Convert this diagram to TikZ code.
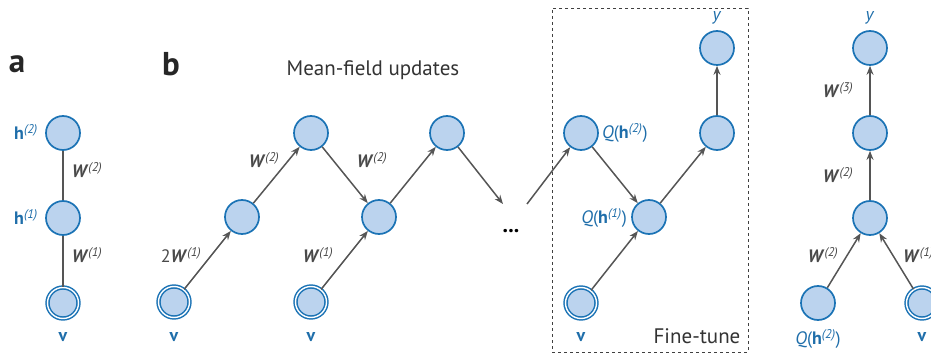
\documentclass[tikz,border=0pt]{standalone}
\usepackage{fontspec}
\setmainfont{PT Sans}
\usetikzlibrary{arrows.meta}
\definecolor{nfill}{HTML}{BBD3EE}
\definecolor{nblue}{HTML}{1B73B5}
\definecolor{tblue}{HTML}{1F6EAA}
\definecolor{tgray}{HTML}{4A4A4A}
\definecolor{agray}{HTML}{555555}
\newcommand\Wl[1]{\textbf{\textit{W}}\textsuperscript{\textit{(#1)}}}
\newcommand\hl[1]{\textbf{h}\textsuperscript{\textit{(#1)}}}
\newcommand\Ql[1]{\textit{Q}(\hl{#1})}
\tikzset{
  nd/.style={circle, minimum size=34pt, inner sep=0pt, fill=nfill, draw=nblue, line width=1.7pt},
  vis/.style={circle, minimum size=31pt, inner sep=0pt, fill=nfill, draw=nblue, double=white, double distance=1.4pt, line width=1.5pt},
  wlab/.style={text=tgray, font=\fontsize{18}{20}\selectfont, inner sep=0pt},
  blab/.style={text=tblue, font=\fontsize{18}{20}\selectfont, inner sep=0pt},
  panel/.style={font=\fontsize{33}{35}\selectfont\bfseries, text=black!85, inner sep=0pt},
  ttl/.style={font=\fontsize{21}{23}\selectfont, text=black!80, inner sep=0pt},
  ln/.style={draw=agray, line width=2pt},
  ar/.style={draw=agray, line width=1.5pt, -{Stealth[length=9pt,width=7pt]}},
}
\begin{document}
\begin{tikzpicture}[x=1pt,y=-1pt]
\useasboundingbox (0,0) rectangle (931,355);
\clip (0,0) rectangle (931,355);
% panel a
\node[panel] (la) at (17,64) {a};
\node[nd] (ah2) at (63,133) {};
\node[nd] (ah1) at (63,218) {};
\node[vis] (av) at (63,303) {};
\draw[ln] (ah2) -- (ah1);
\draw[ln] (ah1) -- (av);
\node[blab] (ah2l) at (26,132) {\hl{2}};
\node[blab] (ah1l) at (26,217) {\hl{1}};
\node[blab] (avl) at (63,337) {\textbf{v}};
\node[wlab] (aw2) at (87,170) {\Wl{2}};
\node[wlab] (aw1) at (87,255) {\Wl{1}};
% panel b
\node[panel] (lb) at (171,64) {b};
\node[ttl] (title) at (373,70) {Mean-field updates};
\node[vis] (bv1) at (174,302) {};
\node[nd] (b1) at (242,217) {};
\node[nd] (b2) at (311,133) {};
\node[nd] (b3) at (379,217) {};
\node[vis] (bv2) at (311,302) {};
\node[nd] (b4) at (447,133) {};
\node[font=\fontsize{22}{24}\selectfont\bfseries, inner sep=0pt] (dots) at (511,231) {...};
\coordinate (d1) at (503,204);
\coordinate (d2) at (527,204);
\draw[ar] (bv1) -- (b1);
\draw[ar] (b1) -- (b2);
\draw[ar] (b2) -- (b3);
\draw[ar] (bv2) -- (b3);
\draw[ar] (b3) -- (b4);
\draw[ar] (b4) -- (d1);
\node[wlab] (bw1) at (181,255) {2\Wl{1}};
\node[wlab] (bw2) at (264,160) {\Wl{2}};
\node[wlab] (bw3) at (372,160) {\Wl{2}};
\node[wlab] (bw4) at (318,255) {\Wl{1}};
\node[blab] (bv1l) at (174,337) {\textbf{v}};
\node[blab] (bv2l) at (311,337) {\textbf{v}};
% fine-tune box
\node[draw=black!75, dashed, line width=0.8pt, minimum width=196pt, minimum height=344pt, inner sep=0pt] (box) at (650,180) {};
\node[ttl] (ft) at (697,336) {Fine-tune};
\node[nd] (q2) at (581,133) {};
\node[nd] (q1) at (649,217) {};
\node[vis] (fv) at (581,303) {};
\node[nd] (f3) at (717,133) {};
\node[nd] (fy) at (717,48) {};
\draw[ar] (d2) -- (q2);
\draw[ar] (q2) -- (q1);
\draw[ar] (fv) -- (q1);
\draw[ar] (q1) -- (f3);
\draw[ar] (f3) -- (fy);
\node[blab, anchor=west] (q2l) at (602,133) {\Ql{2}};
\node[blab, anchor=east] (q1l) at (627,218) {\Ql{1}};
\node[blab] (fvl) at (581,337) {\textbf{v}};
\node[blab] (fyl) at (717,18) {\textit{y}};
% panel c
\node[nd] (cy) at (870,48) {};
\node[nd] (c3) at (870,133) {};
\node[nd] (c2) at (870,218) {};
\node[nd] (cq) at (818,303) {};
\node[vis] (cv) at (922,303) {};
\draw[ar] (cq) -- (c2);
\draw[ar] (cv) -- (c2);
\draw[ar] (c2) -- (c3);
\draw[ar] (c3) -- (cy);
\node[wlab] (cw3) at (838,90) {\Wl{3}};
\node[wlab] (cw2) at (838,175) {\Wl{2}};
\node[wlab] (cw2b) at (823,255) {\Wl{2}};
\node[wlab, anchor=west] (cw1) at (903,255) {\Wl{1}};
\node[blab] (cql) at (818,339) {\Ql{2}};
\node[blab] (cvl) at (922,337) {\textbf{v}};
\node[blab] (cyl) at (870,18) {\textit{y}};
\end{tikzpicture}
\end{document}
